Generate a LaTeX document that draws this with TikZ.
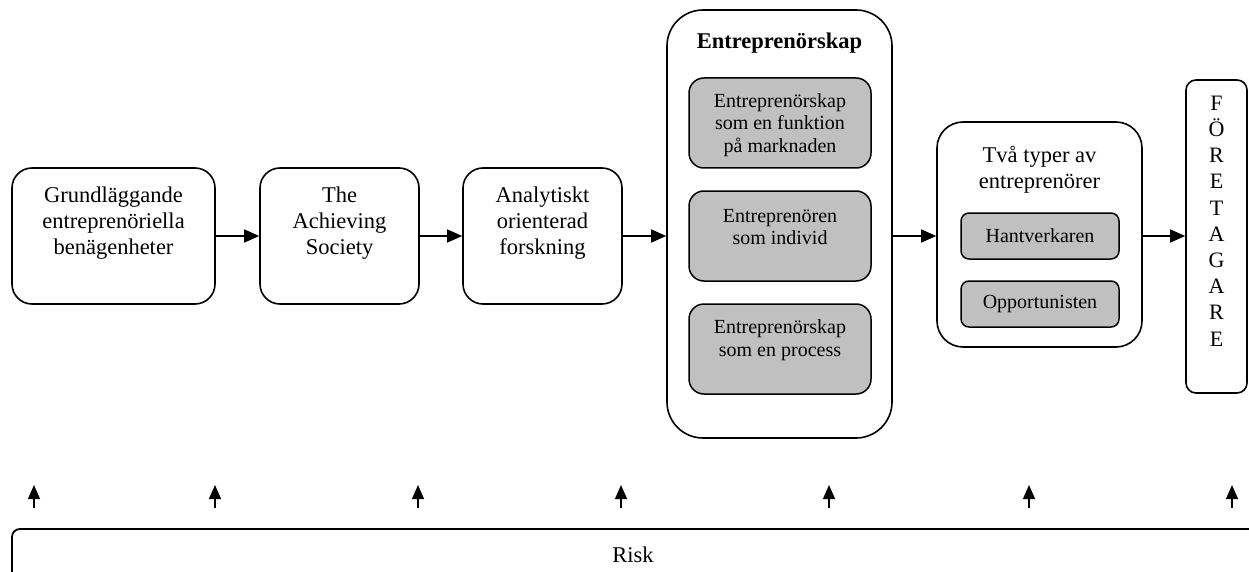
\documentclass[tikz,border=0pt]{standalone}
\usepackage{fontspec}
\setmainfont{Liberation Serif}
\usetikzlibrary{arrows.meta}
\definecolor{boxgray}{RGB}{192,192,192}
\begin{document}
\begin{tikzpicture}[x=1pt,y=-1pt,
  outerbox/.style={draw, line width=1.6pt, rounded corners=20pt, inner sep=0pt},
  graybox/.style={draw, line width=1.5pt, fill=boxgray, inner sep=0pt},
  bigtxt/.style={align=center, inner sep=0pt, font=\fontsize{22.5}{26}\selectfont},
  smalltxt/.style={align=center, inner sep=0pt, font=\fontsize{20}{22.5}\selectfont},
  flowarrow/.style={line width=1.3pt, -{Triangle[length=15pt,width=13pt]}},
  riskarrow/.style={line width=1.2pt, -{Triangle[length=14pt,width=12pt]}}]
\useasboundingbox (0,0) rectangle (1249,572);
% main boxes
\node[outerbox, minimum width=203pt, minimum height=136pt] (b1) at (113.5,236) {};
\node[bigtxt] (t1) at (113.5,223) {Grundläggande\\entreprenöriella\\benägenheter};
\node[outerbox, minimum width=159pt, minimum height=136pt] (b2) at (339.5,236) {};
\node[bigtxt] (t2) at (339.5,223) {The\\Achieving\\Society};
\node[outerbox, minimum width=159pt, minimum height=136pt] (b3) at (542.5,236) {};
\node[bigtxt] (t3) at (542.5,223) {Analytiskt\\orienterad\\forskning};
% Entreprenorskap
\node[outerbox, rounded corners=36pt, minimum width=225pt, minimum height=428pt] (E) at (779.5,224) {};
\node[bigtxt, font=\fontsize{22.5}{26}\selectfont\bfseries] (Et) at (779.5,43) {Entreprenörskap};
\node[graybox, rounded corners=15pt, minimum width=182pt, minimum height=90pt] (Ea) at (780,123) {};
\node[smalltxt] (Eat) at (780,125) {Entreprenörskap\\som en funktion\\på marknaden};
\node[graybox, rounded corners=15pt, minimum width=182pt, minimum height=90pt] (Eb) at (780,236) {};
\node[smalltxt] (Ebt) at (780,227) {Entreprenören\\som individ};
\node[graybox, rounded corners=15pt, minimum width=182pt, minimum height=90pt] (Ec) at (780,349) {};
\node[smalltxt] (Ect) at (780,340) {Entreprenörskap\\som en process};
% Tva typer
\node[outerbox, rounded corners=26pt, minimum width=205pt, minimum height=225pt] (T) at (1039.5,234.5) {};
\node[bigtxt] (Tt) at (1039.5,170) {Två typer av\\entreprenörer};
\node[graybox, rounded corners=8pt, minimum width=158pt, minimum height=46pt] (Ta) at (1040,236) {};
\node[smalltxt] (Tat) at (1040,236) {Hantverkaren};
\node[graybox, rounded corners=8pt, minimum width=158pt, minimum height=46pt] (Tb) at (1040,304) {};
\node[smalltxt] (Tbt) at (1040,304) {Opportunisten};
% Foretagare
\node[outerbox, rounded corners=10pt, minimum width=61pt, minimum height=313pt] (F) at (1216.5,236.5) {};
\node[bigtxt, font=\fontsize{22}{26.2}\selectfont] (Ft) at (1216.5,221) {F\\Ö\\R\\E\\T\\A\\G\\A\\R\\E};
% flow arrows
\draw[flowarrow] (b1.east) -- (b2.west);
\draw[flowarrow] (b2.east) -- (b3.west);
\draw[flowarrow] (b3.east) -- (b3.east -| E.west);
\draw[flowarrow] (E.east |- b1.east) -- (T.west |- b1.east);
\draw[flowarrow] (T.east |- b1.east) -- (F.west |- b1.east);
% Risk
\node[draw, line width=1.8pt, rounded corners=8pt, minimum width=1260pt, minimum height=80pt, inner sep=0pt] (R) at (642,569) {};
\node[bigtxt] (Rt) at (633,555) {Risk};
\foreach \i/\x in {1/34,2/215,3/418,4/621,5/829,6/1029,7/1232}{
  \coordinate (ra\i) at (\x,508);
  \coordinate (rb\i) at (\x,485);
  \draw[riskarrow] (ra\i) -- (rb\i);
}
\end{tikzpicture}
\end{document}
